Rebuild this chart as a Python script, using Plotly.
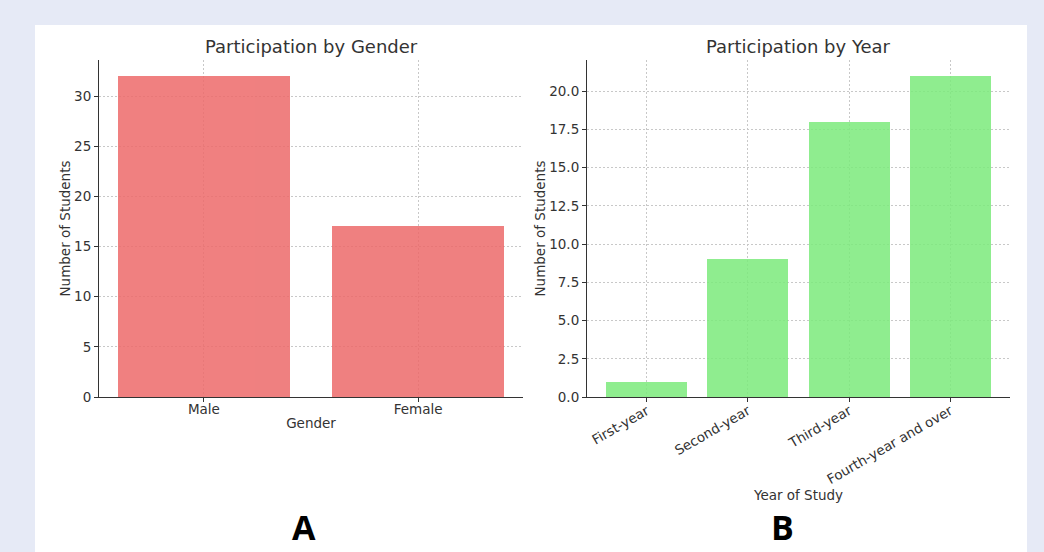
import plotly.graph_objects as go
from plotly.subplots import make_subplots

# Data
genders = ["Male", "Female"]
gender_counts = [32, 17]
years = ["First-year", "Second-year", "Third-year", "Fourth-year and over"]
year_counts = [1, 9, 18, 21]
gender_ticks = [0, 5, 10, 15, 20, 25, 30]
year_ticks = [0, 2.5, 5, 7.5, 10, 12.5, 15, 17.5, 20]

W, H = 1044, 552
FONT = "DejaVu Sans"
TXT = "#333333"
FS = 13.5

def px_x(p):
    return p / W

def px_y(p):
    return 1 - p / H

fig = make_subplots(rows=1, cols=2)

fig.add_trace(go.Bar(x=genders, y=gender_counts, width=0.8,
                     marker=dict(color="#ED6A6A", line=dict(width=0)), opacity=0.85,
                     showlegend=False), row=1, col=1)
fig.add_trace(go.Bar(x=years, y=year_counts, width=0.8,
                     marker=dict(color="#7CEB7C", line=dict(width=0)), opacity=0.85,
                     showlegend=False), row=1, col=2)

ydom = [px_y(397), px_y(60)]
common_ax = dict(showline=True, linecolor="#333333", linewidth=1.1,
                 ticks="outside", ticklen=4, tickcolor="#333333",
                 showgrid=True, gridcolor="#c8c8c8", griddash="2px,2px", gridwidth=0.8,
                 zeroline=False, tickfont=dict(family=FONT, size=FS, color=TXT),
                 mirror=False, automargin=False)
tfont = dict(family=FONT, size=FS, color=TXT)

fig.update_layout(
    width=W, height=H, autosize=False,
    margin=dict(l=0, r=0, t=0, b=0, pad=0),
    paper_bgcolor="#e6eaf6",
    plot_bgcolor="rgba(0,0,0,0)",
    bargap=0,
    font=dict(family=FONT, color=TXT),
    xaxis=dict(domain=[px_x(99), px_x(523)], range=[-0.49, 1.49],
               title=dict(text="Gender", font=tfont, standoff=2),
               **common_ax),
    yaxis=dict(domain=ydom, range=[0, 33.6], tickvals=gender_ticks,
               title=dict(text="Number of Students", font=tfont, standoff=0),
               **common_ax),
    xaxis2=dict(domain=[px_x(587), px_x(1010)], range=[-0.59, 3.59], tickangle=-30,
                title=dict(text="Year of Study", font=tfont, standoff=0),
                **common_ax),
    yaxis2=dict(domain=ydom, range=[0, 22.05], tickvals=year_ticks, tickformat=".1f",
                title=dict(text="Number of Students", font=tfont, standoff=0),
                **common_ax),
    shapes=[dict(type="rect", xref="paper", yref="paper",
                 x0=px_x(35), x1=px_x(1027), y0=0, y1=px_y(25),
                 fillcolor="white", line=dict(width=0), layer="below")],
    annotations=[
        dict(text="Participation by Gender", xref="paper", yref="paper",
             x=px_x(311), y=px_y(46), showarrow=False, xanchor="center", yanchor="middle",
             font=dict(family=FONT, size=18, color=TXT)),
        dict(text="Participation by Year", xref="paper", yref="paper",
             x=px_x(798), y=px_y(46), showarrow=False, xanchor="center", yanchor="middle",
             font=dict(family=FONT, size=18, color=TXT)),
        dict(text="<b>A</b>", xref="paper", yref="paper",
             x=px_x(304), y=0, showarrow=False, xanchor="center", yanchor="bottom",
             font=dict(family="Open Sans", size=34, color="black")),
        dict(text="<b>B</b>", xref="paper", yref="paper",
             x=px_x(782), y=0, showarrow=False, xanchor="center", yanchor="bottom",
             font=dict(family="Open Sans", size=34, color="black")),
    ],
)

try:
    fig.update_xaxes(ticklabelstandoff=-4)
except Exception:
    pass

fig.write_html("out.html",
               config={"responsive": False, "displayModeBar": False},
               post_script="document.body.style.margin='0';document.documentElement.style.margin='0';")
